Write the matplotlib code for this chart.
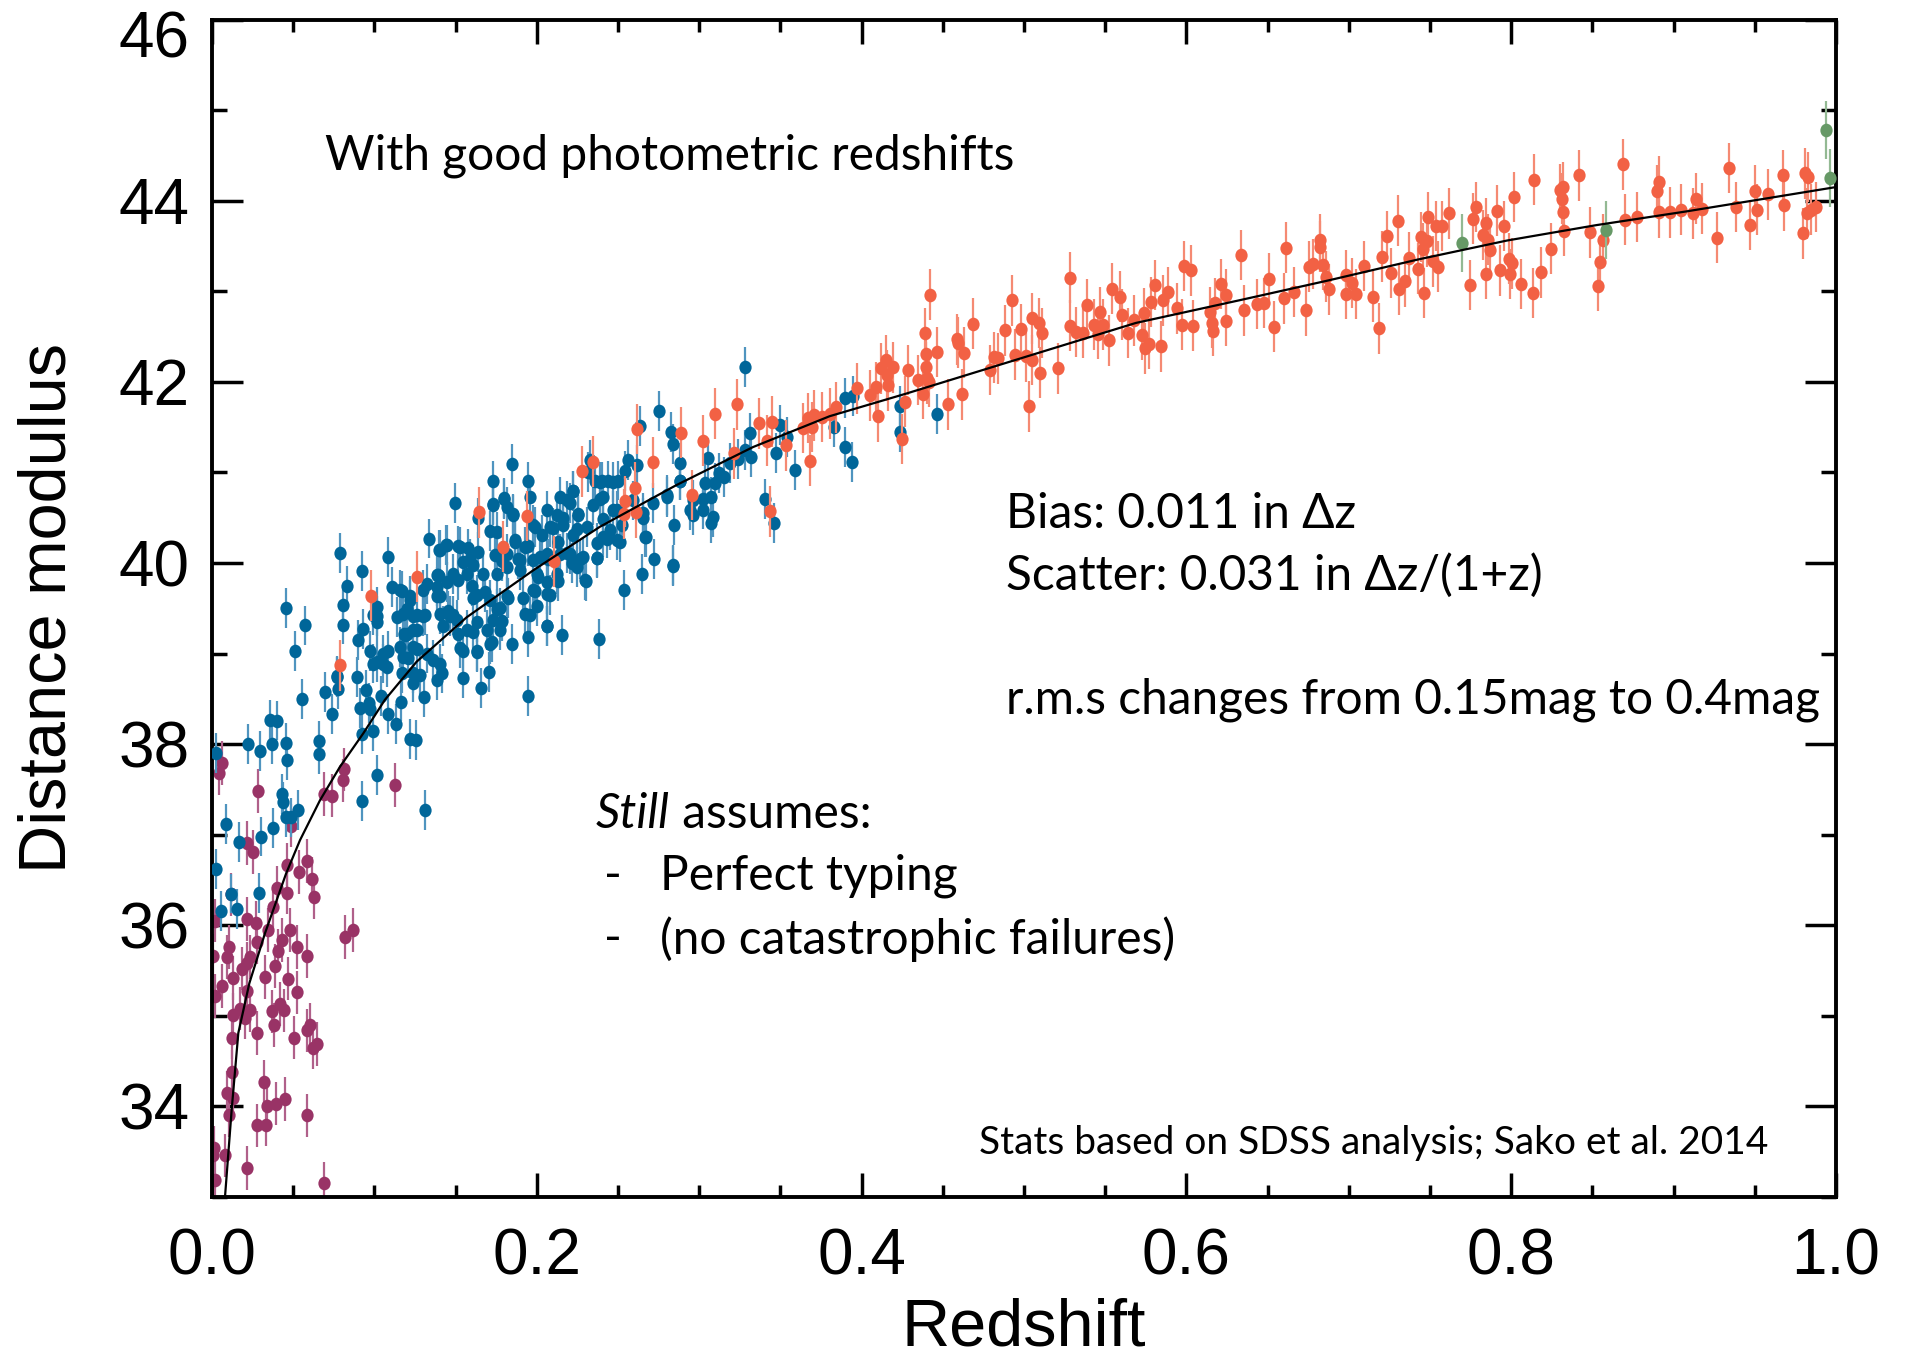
import matplotlib
matplotlib.use("Agg")
import matplotlib.pyplot as plt
from matplotlib.ticker import MultipleLocator
from matplotlib.path import Path
from matplotlib.transforms import Affine2D, ScaledTranslation

# Datenpunkte (z, mu)
purple_pts = [
    (0.0045, 37.68), (0.0063, 37.79), (0.0285, 37.48), (0.0813, 37.72), (0.0809, 37.60),
    (0.0690, 37.45), (0.0741, 37.43), (0.1129, 37.55), (0.0484, 37.10), (0.0214, 36.91),
    (0.0255, 36.81), (0.0464, 36.67), (0.0583, 36.71), (0.0536, 36.59), (0.0618, 36.51),
    (0.0630, 36.31), (0.0402, 36.41), (0.0464, 36.36), (0.0378, 36.20), (0.0117, 36.34),
    (0.0019, 36.05), (0.0214, 36.07), (0.0269, 36.03), (0.0347, 35.95), (0.0480, 35.95),
    (0.0819, 35.87), (0.0870, 35.95), (0.0431, 35.84), (0.0275, 35.81), (0.0105, 35.76),
    (0.0521, 35.76), (0.0583, 35.66), (0.0409, 35.72), (0.0005, 35.66), (0.0234, 35.65),
    (0.0094, 35.65), (0.0214, 35.58), (0.0183, 35.52), (0.0386, 35.55), (0.0131, 35.42),
    (0.0326, 35.43), (0.0466, 35.41), (0.0060, 35.33), (0.0214, 35.27), (0.0521, 35.26),
    (0.0019, 35.22), (0.0172, 35.08), (0.0234, 35.06), (0.0131, 35.01), (0.0367, 35.05),
    (0.0419, 35.13), (0.0445, 35.06), (0.0203, 34.98), (0.0384, 34.90), (0.0603, 34.90),
    (0.0583, 34.84), (0.0275, 34.81), (0.0507, 34.76), (0.0125, 34.76), (0.0649, 34.69),
    (0.0624, 34.65), (0.0123, 34.38), (0.0320, 34.27), (0.0090, 34.15), (0.0131, 34.09),
    (0.0450, 34.08), (0.0394, 34.03), (0.0337, 34.00), (0.0105, 33.90), (0.0583, 33.90),
    (0.0275, 33.79), (0.0333, 33.80), (0.0012, 33.54), (0.0080, 33.46), (0.0008, 33.46),
    (0.0218, 33.32), (0.0019, 33.19), (0.0690, 33.15),
]

blue_pts = [
    # niedrige z
    (0.0737, 38.33), (0.0357, 38.27), (0.0398, 38.26), (0.0911, 38.40), (0.0973, 38.39),
    (0.0993, 38.14), (0.0926, 38.11), (0.1086, 38.33), (0.1131, 38.22), (0.0023, 37.90),
    (0.0224, 38.00), (0.0296, 37.92), (0.0372, 38.00), (0.0454, 38.01), (0.0464, 37.82),
    (0.0661, 38.03), (0.0661, 37.89), (0.1014, 37.66), (0.0922, 37.37), (0.0429, 37.45),
    (0.0435, 37.36), (0.0532, 37.27), (0.0454, 37.20), (0.0484, 37.19), (0.0374, 37.07),
    (0.0302, 36.98), (0.0168, 36.92), (0.0084, 37.12), (0.0023, 36.62), (0.0117, 36.35),
    (0.0291, 36.36), (0.0053, 36.16), (0.0152, 36.18), (0.1219, 38.06), (0.1256, 38.05),
    (0.1162, 38.47), (0.1310, 37.27), (0.0554, 38.50),
    # Hauptwolke
    (0.0456, 39.50), (0.0573, 39.31), (0.0513, 39.03), (0.0696, 38.58), (0.0774, 38.61),
    (0.0772, 38.75), (0.0788, 40.11), (0.0805, 39.54), (0.0805, 39.32), (0.0833, 39.75),
    (0.0924, 39.91), (0.0930, 39.27), (0.0901, 39.15), (0.0891, 38.74), (0.0948, 38.60),
    (0.0965, 38.45), (0.0993, 39.42), (0.1014, 39.51), (0.0973, 39.03), (0.1014, 38.91),
    (0.1051, 38.99), (0.1086, 39.03), (0.1082, 40.07), (0.1110, 39.73), (0.1039, 38.53),
    (0.1137, 39.40), (0.1170, 39.69), (0.1182, 39.22), (0.1199, 39.49), (0.1240, 39.26),
    (0.1209, 38.95), (0.1168, 38.78), (0.1240, 38.68), (0.1260, 39.05), (0.1314, 39.43),
    (0.1334, 40.27), (0.1305, 38.52), (0.1363, 38.93), (0.1404, 38.89), (0.1414, 38.78),
    (0.1388, 38.71), (0.1398, 39.86), (0.1400, 40.14), (0.1441, 40.20), (0.1404, 39.63),
    (0.1455, 39.47), (0.1486, 39.42), (0.1498, 40.66), (0.1517, 40.19), (0.1517, 39.22),
    (0.1548, 38.73), (0.1548, 39.03), (0.1589, 40.04), (0.1609, 39.61), (0.1609, 39.24),
    (0.1630, 39.03), (0.1656, 38.62), (0.1640, 40.50), (0.1671, 39.88), (0.1691, 39.26),
    (0.1708, 38.80), (0.1724, 39.13), (0.1728, 40.91), (0.1728, 40.65), (0.1712, 40.35),
    (0.1753, 39.49), (0.1784, 39.36), (0.1784, 40.02), (0.1798, 40.71), (0.1823, 39.61),
    (0.1856, 40.54), (0.1849, 41.09), (0.1845, 39.11), (0.1866, 40.23), (0.1886, 40.04),
    (0.1917, 39.61), (0.1948, 40.90), (0.1958, 40.73), (0.1948, 39.18), (0.1944, 38.53),
    (0.1948, 40.19), (0.1958, 39.42), (0.1979, 40.42), (0.1989, 39.69), (0.2009, 39.84),
    (0.2030, 40.31), (0.2061, 39.30), (0.2061, 40.58), (0.2071, 40.04), (0.2081, 39.65),
    (0.2102, 40.39), (0.2133, 40.23), (0.2143, 40.73), (0.2153, 39.20), (0.2133, 39.80),
    (0.2163, 40.50), (0.2184, 40.11), (0.2204, 40.66), (0.2225, 40.79), (0.2245, 40.37),
    (0.2256, 40.54), (0.2266, 40.04), (0.2301, 39.80), (0.2317, 41.00), (0.2328, 41.14),
    (0.2348, 40.64), (0.2369, 40.06), (0.2389, 40.89), (0.2385, 39.16), (0.2410, 40.73),
    (0.2430, 40.27), (0.2471, 40.89), (0.2492, 40.58), (0.2512, 40.23), (0.2523, 40.42),
    (0.2537, 39.70), (0.2543, 41.02), (0.2564, 41.14), (0.2615, 41.08), (0.2635, 41.51),
    (0.2646, 39.88), (0.2656, 40.50), (0.2666, 40.29), (0.2718, 40.66), (0.2722, 40.04),
    (0.2750, 41.68), (0.2800, 40.75), (0.2824, 41.45), (0.2837, 39.97), (0.2841, 41.31),
    (0.2845, 40.42), (0.2882, 41.10), (0.2882, 40.91), (0.2943, 40.58), (0.2964, 40.70),
    (0.2358, 40.90), (0.2399, 40.90), (0.2440, 40.91), (0.2502, 40.91), (0.2225, 40.80),
    (0.2184, 40.69), (0.1800, 40.72), (0.1730, 40.64), (0.1814, 40.62), (0.1855, 40.53),
    (0.2122, 40.53), (0.2256, 40.53), (0.2389, 40.71), (0.2410, 40.49), (0.2471, 40.58),
    (0.2594, 40.69), (0.2656, 40.55), (0.2800, 40.73), (0.2882, 40.91), (0.2964, 40.53),
    (0.1753, 40.34), (0.1989, 40.40), (0.2081, 40.40), (0.2163, 40.42), (0.2225, 40.31),
    (0.2307, 40.40), (0.2410, 40.29), (0.2492, 40.25), (0.2369, 40.22), (0.2670, 40.29),
    (0.2451, 40.36), (0.1404, 40.14), (0.1445, 40.20), (0.1527, 40.18), (0.1578, 40.16),
    (0.1639, 40.12), (0.1548, 40.01), (0.1609, 39.98), (0.1743, 40.09), (0.1814, 40.10),
    (0.1866, 40.25), (0.1927, 40.18), (0.1896, 40.03), (0.1979, 40.03), (0.2020, 40.07),
    (0.2061, 40.10), (0.2143, 40.10), (0.2204, 40.10), (0.2286, 40.07), (0.2368, 40.05),
    (0.2215, 40.00), (0.2245, 39.96), (0.2122, 39.88), (0.1999, 39.88), (0.2061, 39.79),
    (0.1896, 39.92), (0.1814, 39.96), (0.1753, 39.88), (0.1568, 39.88), (0.1486, 39.88),
    (0.1394, 39.87), (0.1158, 39.70), (0.1219, 39.59), (0.1301, 39.70), (0.1383, 39.74),
    (0.1445, 39.79), (0.1517, 39.81), (0.1599, 39.75), (0.1681, 39.68), (0.1630, 39.65),
    (0.1712, 39.59), (0.1814, 39.63), (0.1773, 39.50), (0.1979, 39.70), (0.1999, 39.52),
    (0.2061, 39.66), (0.2297, 39.81), (0.2841, 39.98), (0.1178, 39.44), (0.1260, 39.42),
    (0.1404, 39.44), (0.1465, 39.41), (0.1425, 39.30), (0.1507, 39.37), (0.1568, 39.26),
    (0.1630, 39.35), (0.1732, 39.37), (0.1773, 39.26), (0.1927, 39.44), (0.2061, 39.30),
    (0.1527, 39.06), (0.1630, 39.02), (0.1712, 39.11), (0.1199, 39.22), (0.1240, 39.07),
    (0.1322, 39.00), (0.1158, 39.07),
    (0.1219, 39.64), (0.1322, 39.77), (0.1383, 39.87), (0.1383, 39.63), (0.1301, 39.41),
    (0.1240, 39.41), (0.1014, 39.41), (0.1014, 39.35), (0.1188, 39.20), (0.1260, 39.26),
    (0.0993, 38.89), (0.1055, 38.89), (0.1075, 38.85), (0.1178, 38.96), (0.1240, 38.78),
    (0.1281, 38.76), (0.0768, 38.74),
    # hohe z
    (0.3285, 42.16), (0.3056, 41.16), (0.3037, 40.88), (0.3072, 40.73), (0.3096, 40.88),
    (0.3120, 40.99), (0.3155, 40.95), (0.3025, 40.71), (0.3021, 40.59), (0.3084, 40.51),
    (0.3072, 40.44), (0.3190, 41.10), (0.3237, 41.15), (0.3285, 41.25), (0.3315, 41.44),
    (0.3320, 41.17), (0.3407, 40.71), (0.3461, 40.44), (0.3473, 41.21), (0.3497, 41.52),
    (0.3539, 41.39), (0.3591, 41.03), (0.3827, 41.50), (0.3897, 41.28), (0.3940, 41.11),
    (0.3897, 41.82), (0.3945, 41.84), (0.4239, 41.45), (0.4234, 41.73), (0.4463, 41.64),
]

orange_pts = [
    (0.0788, 38.87), (0.0981, 39.64), (0.1264, 39.85), (0.1646, 40.56), (0.1938, 40.52),
    (0.1794, 40.18), (0.2106, 40.02), (0.2276, 41.01), (0.2348, 41.12), (0.2543, 40.68),
    (0.2537, 40.54), (0.2605, 40.83), (0.2611, 40.56), (0.2619, 41.48), (0.2718, 41.11),
    (0.2888, 41.44), (0.2954, 40.75),
    (0.3096, 41.65), (0.3230, 41.75), (0.3025, 41.35), (0.3214, 41.21), (0.3367, 41.54),
    (0.3450, 41.56), (0.3419, 41.35), (0.3532, 41.30), (0.3433, 40.57), (0.3685, 41.13),
    (0.3638, 41.49), (0.3673, 41.60), (0.3709, 41.63), (0.3756, 41.61), (0.3803, 41.65),
    (0.3843, 41.72), (0.3697, 41.50), (0.3973, 41.93), (0.4051, 41.85), (0.4091, 41.94),
    (0.4102, 41.62), (0.4117, 42.15), (0.4152, 42.24), (0.4157, 42.07), (0.4192, 42.16),
    (0.4161, 41.96), (0.4267, 41.78), (0.4286, 42.13), (0.4251, 41.37), (0.4345, 42.02),
    (0.4376, 41.87), (0.4404, 42.04), (0.4399, 42.16), (0.4423, 42.96), (0.4388, 42.54),
    (0.4399, 42.31), (0.4463, 42.33), (0.4416, 42.00), (0.4534, 41.75), (0.4616, 41.86),
    (0.4586, 42.47), (0.4593, 42.43), (0.4628, 42.32), (0.4687, 42.64), (0.4788, 42.13),
    (0.4817, 42.27), (0.4840, 42.26), (0.4883, 42.57), (0.4927, 42.90), (0.4946, 42.30),
    (0.4982, 42.58), (0.5010, 42.28), (0.5033, 41.73), (0.5052, 42.24), (0.5052, 42.70),
    (0.5095, 42.65), (0.5099, 42.10), (0.5111, 42.54), (0.5210, 42.15), (0.5283, 43.15),
    (0.5283, 42.62), (0.5323, 42.55), (0.5363, 42.54), (0.5387, 42.85), (0.5429, 42.63),
    (0.5453, 42.53), (0.5465, 42.77), (0.5488, 42.63), (0.5524, 42.46), (0.5542, 43.03),
    (0.5594, 42.94), (0.5606, 42.74), (0.5641, 42.54), (0.5677, 42.68), (0.5724, 42.52),
    (0.5736, 42.76), (0.5747, 42.37), (0.5771, 42.42), (0.5783, 42.88), (0.5806, 43.07),
    (0.5842, 42.39), (0.5854, 42.90), (0.5889, 42.99), (0.5943, 42.81), (0.5971, 42.63),
    (0.5983, 43.28), (0.6030, 43.23), (0.6042, 42.62),
    (0.6334, 43.40), (0.6216, 43.08), (0.6243, 42.96), (0.6175, 42.87), (0.6147, 42.77),
    (0.6155, 42.65), (0.6161, 42.56), (0.6243, 42.67), (0.6353, 42.79), (0.6436, 42.86),
    (0.6477, 42.87), (0.6510, 43.14), (0.6540, 42.61), (0.6601, 42.92), (0.6614, 43.48),
    (0.6664, 42.99), (0.6738, 42.79), (0.6755, 43.27), (0.6782, 43.30), (0.6820, 43.57),
    (0.6820, 43.49), (0.6843, 43.29), (0.6862, 43.16), (0.6881, 43.02), (0.6985, 43.18),
    (0.7018, 43.09), (0.6985, 42.97), (0.7046, 42.97), (0.7095, 43.28), (0.7150, 42.94),
    (0.7189, 42.59), (0.7205, 43.38), (0.7233, 43.61), (0.7260, 43.20), (0.7304, 43.78),
    (0.7310, 43.02), (0.7343, 43.11), (0.7370, 43.37), (0.7425, 43.25), (0.7447, 43.60),
    (0.7458, 43.47), (0.7466, 42.98), (0.7480, 43.55), (0.7486, 43.82), (0.7521, 43.33),
    (0.7535, 43.72), (0.7549, 43.27), (0.7576, 43.72), (0.7618, 43.86), (0.7744, 43.07),
    (0.7763, 43.80), (0.7783, 43.93), (0.7824, 43.62), (0.7843, 43.75), (0.7860, 43.57),
    (0.7843, 43.19), (0.7871, 43.46), (0.7915, 43.89), (0.7934, 43.23), (0.7953, 43.72),
    (0.7989, 43.36), (0.7992, 43.19), (0.8008, 43.31), (0.8016, 44.04), (0.8063, 43.08),
    (0.8135, 42.98), (0.8140, 44.23), (0.8181, 43.21), (0.8244, 43.47), (0.8299, 44.12),
    (0.8319, 44.15), (0.8310, 44.02), (0.8319, 43.88), (0.8327, 43.67), (0.8420, 44.28),
    (0.8483, 43.65), (0.8547, 43.32), (0.8536, 43.06), (0.8566, 43.57), (0.8690, 44.40),
    (0.8703, 43.79), (0.8772, 43.82), (0.8896, 44.11), (0.8910, 44.21), (0.8910, 43.87),
    (0.8978, 43.87), (0.9047, 43.90), (0.9121, 43.86), (0.9135, 44.02), (0.9176, 43.91),
    (0.9267, 43.59), (0.9341, 44.36), (0.9382, 43.93), (0.9473, 43.73), (0.9501, 44.11),
    (0.9514, 43.90), (0.9583, 44.07), (0.9671, 44.28), (0.9679, 43.95), (0.9797, 43.64),
    (0.9808, 44.30), (0.9830, 44.26), (0.9822, 43.86), (0.9844, 43.90), (0.9877, 43.93),
]

green_pts = [(0.7695, 43.53), (0.8585, 43.68), (0.9940, 44.78), (0.9962, 44.25)]

# Fehlerbalken (typische Werte je Gruppe)
purple_err = 0.24
blue_err = 0.22
orange_err = 0.28
green_err = 0.32

# Modellkurve
curve_z = [0.0080, 0.0121, 0.0162, 0.0230, 0.0326, 0.0456, 0.0542, 0.0665, 0.0788, 0.0932,
           0.1065, 0.1260, 0.1568, 0.1979, 0.2389, 0.2860, 0.3332, 0.3803, 0.4275, 0.4746,
           0.5217, 0.5689, 0.6326, 0.6876, 0.7425, 0.7975, 0.8525, 0.9074, 0.9624, 1.0]
curve_mu = [33.00, 33.96, 34.81, 35.36, 35.91, 36.57, 36.94, 37.38, 37.75, 38.12,
            38.49, 38.91, 39.40, 39.92, 40.40, 40.86, 41.28, 41.62, 41.87, 42.13,
            42.39, 42.65, 42.90, 43.12, 43.35, 43.56, 43.73, 43.88, 44.04, 44.15]

plt.rcParams["font.family"] = ["Liberation Sans", "DejaVu Sans"]
note_font = ["Lato", "DejaVu Sans"]

fig = plt.figure(figsize=(19.06, 13.58), dpi=100)
ax = fig.add_axes([212 / 1906, 1 - 1197 / 1358, 1624 / 1906, 1177.5 / 1358])

# leicht hochgestellte Ellipse als Punktsymbol
dot = Path.unit_circle().transformed(Affine2D().scale(0.9, 1.0))


def draw(pts, color, ecolor, err, zo):
    zs = [p[0] for p in pts]
    ms = [p[1] for p in pts]
    ax.errorbar(zs, ms, yerr=err, fmt="none", ecolor=ecolor, elinewidth=1.6,
                capsize=0, zorder=zo)
    ax.plot(zs, ms, linestyle="none", marker=dot, ms=9.8, mfc=color, mec=color,
            mew=0, zorder=zo + 0.5)


draw(purple_pts, "#993366", "#b0608a", purple_err, 2)
draw(blue_pts, "#006699", "#4f94bf", blue_err, 3)
draw(orange_pts, "#f26144", "#f58a73", orange_err, 4)
draw(green_pts, "#669966", "#93b993", green_err, 5)
ax.plot(curve_z, curve_mu, color="black", lw=1.6, zorder=10)

ax.set_xlim(0, 1.0)
ax.set_ylim(33, 46)
ax.xaxis.set_major_locator(MultipleLocator(0.2))
ax.xaxis.set_minor_locator(MultipleLocator(0.05))
ax.yaxis.set_major_locator(MultipleLocator(2))
ax.yaxis.set_minor_locator(MultipleLocator(1))
ax.tick_params(axis="x", which="major", direction="in", length=17, width=2.5,
               top=True, labelsize=46, pad=22)
ax.tick_params(axis="x", which="minor", direction="in", length=8.5, width=2.5, top=True)
ax.tick_params(axis="y", which="major", direction="in", length=22, width=2.5,
               right=True, labelsize=46, pad=16)
ax.tick_params(axis="y", which="minor", direction="in", length=11, width=2.5, right=True)
for s in ax.spines.values():
    s.set_linewidth(2.8)

ax.set_xlabel("Redshift", fontsize=48)
ax.set_ylabel("Distance modulus", fontsize=48)
ax.xaxis.set_label_coords(0.5, -0.085)
ax.yaxis.set_label_coords(-0.0815, 0.5)

# oberstes Label (46) etwas nach unten, damit es nicht abgeschnitten wird
fig.canvas.draw()
shift = ScaledTranslation(0, -15 / 100, fig.dpi_scale_trans)
for tick in ax.yaxis.get_major_ticks():
    if abs(tick.get_loc() - 46) < 1e-6:
        tick.label1.set_transform(tick.label1.get_transform() + shift)

# Beschriftungen
fs = 34.5
ax.text(0.0696, 0.8845, "With good photometric redshifts", transform=ax.transAxes,
        fontsize=fs, family=note_font, va="center")
ax.text(0.489, 0.580, "Bias: 0.011 in \u0394z", transform=ax.transAxes,
        fontsize=fs, family=note_font, va="center")
ax.text(0.489, 0.528, "Scatter: 0.031 in \u0394z/(1+z)", transform=ax.transAxes,
        fontsize=fs, family=note_font, va="center")
ax.text(0.489, 0.422, "r.m.s changes from 0.15mag to 0.4mag", transform=ax.transAxes,
        fontsize=fs, family=note_font, va="center")
t = ax.text(0.2365, 0.325, "Still", transform=ax.transAxes, fontsize=fs,
            family=note_font, style="italic", va="center")
fig.canvas.draw()
bb = t.get_window_extent().transformed(ax.transAxes.inverted())
ax.text(bb.x1, 0.325, " assumes:", transform=ax.transAxes, fontsize=fs,
        family=note_font, va="center")
ax.text(0.2414, 0.2725, "-", transform=ax.transAxes, fontsize=fs, family=note_font, va="center")
ax.text(0.2759, 0.2725, "Perfect typing", transform=ax.transAxes, fontsize=fs,
        family=note_font, va="center")
ax.text(0.2414, 0.219, "-", transform=ax.transAxes, fontsize=fs, family=note_font, va="center")
ax.text(0.2759, 0.219, "(no catastrophic failures)", transform=ax.transAxes, fontsize=fs,
        family=note_font, va="center")
ax.text(0.4723, 0.0459, "Stats based on SDSS analysis; Sako et al. 2014", transform=ax.transAxes,
        fontsize=28, family=note_font, va="center")

fig.savefig("out.png", dpi=100)
